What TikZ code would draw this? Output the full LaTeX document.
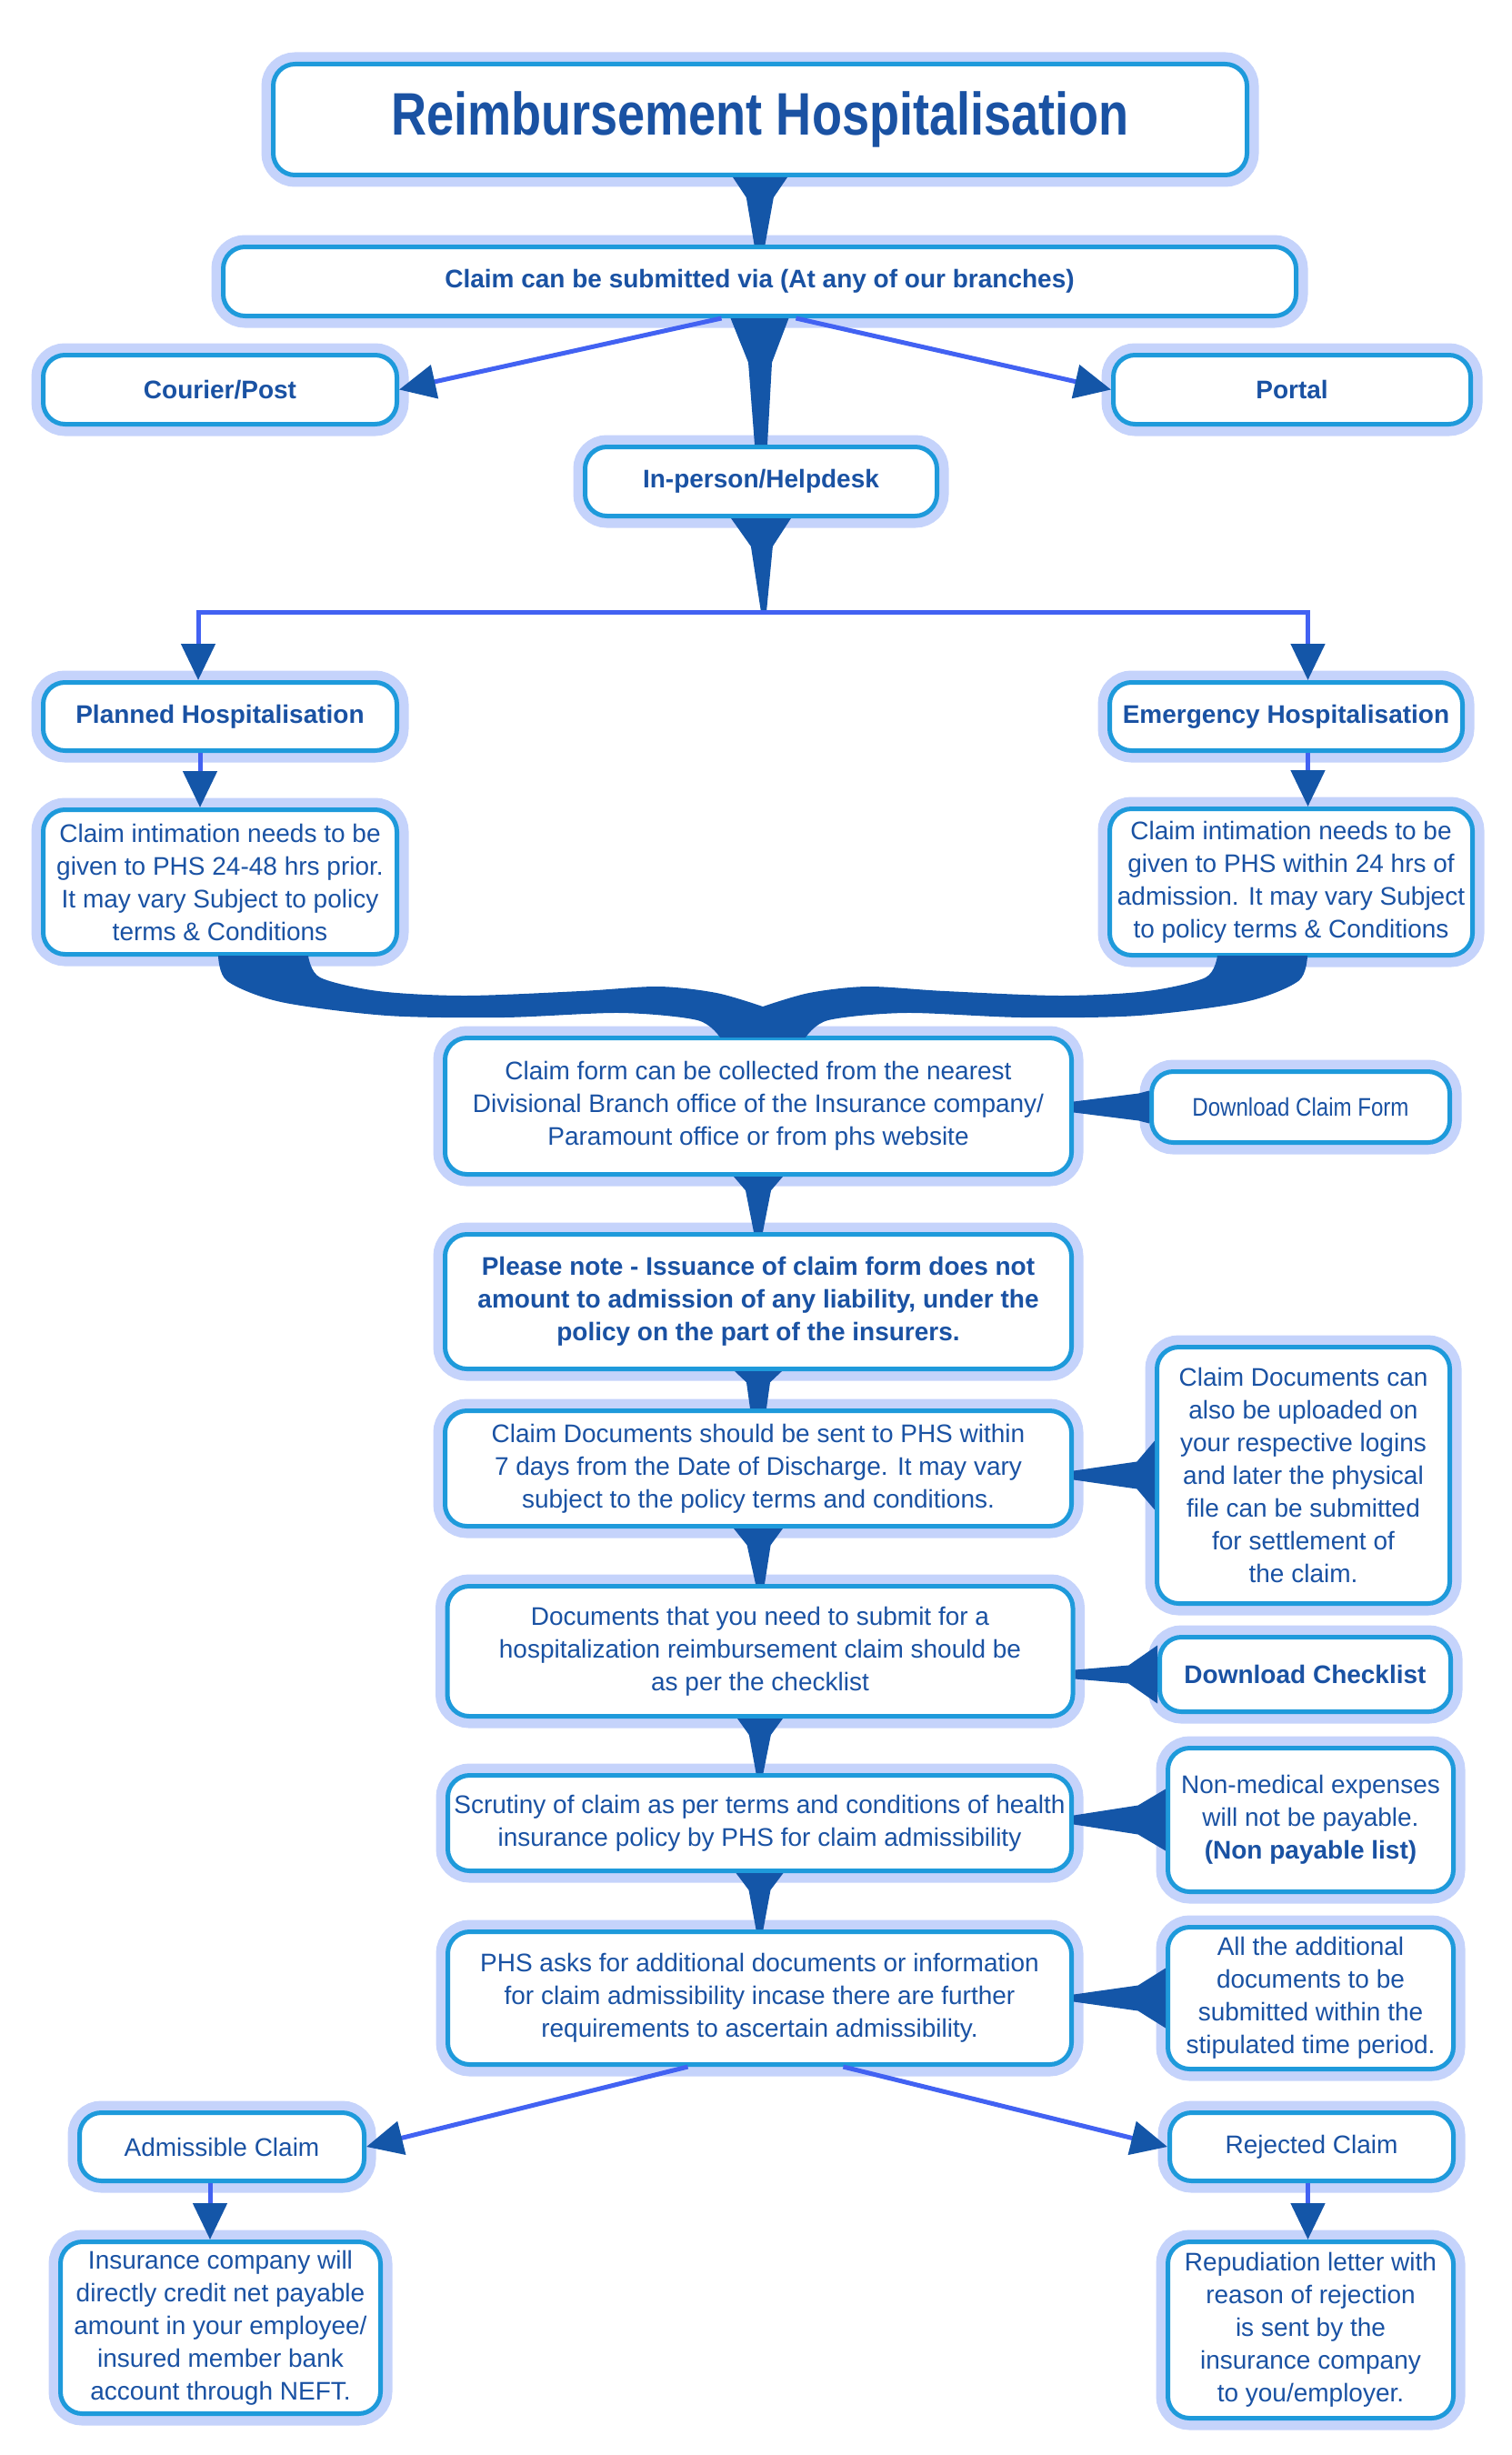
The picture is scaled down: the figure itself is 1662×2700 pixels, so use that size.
\documentclass[tikz,border=0pt]{standalone}
\usepackage{fontspec}
\setmainfont{Liberation Sans}
\usepackage{graphicx}
\usetikzlibrary{arrows.meta,calc}
\definecolor{txtblue}{HTML}{1A52A3}
\definecolor{bordblue}{HTML}{1E9ADB}
\definecolor{glowblue}{HTML}{C5D3FB}
\definecolor{taperblue}{HTML}{1456A8}
\definecolor{lineblue}{HTML}{4262F2}

\begin{document}
\begin{tikzpicture}[x=1pt, y=-1pt,
  box/.style={rectangle, rounded corners=24pt, draw=bordblue, line width=5pt, fill=white, text=txtblue, align=center, inner sep=0pt, font=\fontsize{28}{36}\selectfont, preaction={draw=glowblue, line width=26pt}},
  boldbox/.style={box, font=\fontsize{28}{36}\selectfont\bfseries},
  taper/.style={fill=taperblue},
  arr/.style={draw=lineblue, line width=5pt, -{Triangle[length=40pt,width=37pt,color=taperblue]}}]
\useasboundingbox (0,0) rectangle (1662,2700);

% boxes, top to bottom
\node[boldbox, minimum width=1071pt, minimum height=122pt, font=\fontsize{66}{70}\selectfont\bfseries] (title) at (836,131.5) {\scalebox{0.82}[1]{Reimbursement Hospitalisation}};
\node[boldbox, minimum width=1180pt, minimum height=76pt] (claim) at (835.5,309.5) {Claim can be submitted via (At any of our branches)};
\node[boldbox, minimum width=389pt, minimum height=76pt] (courier) at (242,428.5) {Courier/Post};
\node[boldbox, minimum width=393pt, minimum height=76pt] (portal) at (1421,428.5) {Portal};
\node[boldbox, minimum width=387pt, minimum height=76pt] (inperson) at (837,529.5) {In-person/Helpdesk};
\node[boldbox, minimum width=389pt, minimum height=75pt] (plan) at (242,788) {Planned Hospitalisation};
\node[boldbox, minimum width=388pt, minimum height=75pt] (emer) at (1414.5,788) {Emergency Hospitalisation};
\node[box, minimum width=389pt, minimum height=159pt] (plantext) at (242,970) {Claim intimation needs to be\\given to PHS 24-48 hrs prior.\\It may vary Subject to policy\\terms \& Conditions};
\node[box, minimum width=399pt, minimum height=161pt] (emertext) at (1420,970) {Claim intimation needs to be\\given to PHS within 24 hrs of\\admission. It may vary Subject\\to policy terms \& Conditions};
\node[box, minimum width=689pt, minimum height=150pt] (collect) at (834,1216.5) {Claim form can be collected from the nearest\\Divisional Branch office of the Insurance company/\\Paramount office or from phs website};
\node[box, minimum width=328pt, minimum height=78pt] (dlform) at (1430.5,1217.5) {\scalebox{0.86}[1]{Download Claim Form}};
\node[boldbox, minimum width=689pt, minimum height=148pt] (note) at (834,1431.5) {Please note - Issuance of claim form does not\\amount to admission of any liability, under the\\policy on the part of the insurers.};
\node[box, minimum width=689pt, minimum height=127pt] (docs) at (834,1615) {Claim Documents should be sent to PHS within\\7 days from the Date of Discharge. It may vary\\subject to the policy terms and conditions.};
\node[box, minimum width=322pt, minimum height=282pt] (upload) at (1433.5,1622.5) {Claim Documents can\\also be uploaded on\\your respective logins\\and later the physical\\file can be submitted\\for settlement of\\the claim.};
\node[box, minimum width=688pt, minimum height=143pt] (checklist) at (836,1816) {Documents that you need to submit for a\\hospitalization reimbursement claim should be\\as per the checklist};
\node[boldbox, minimum width=320pt, minimum height=82pt] (dlcheck) at (1435.5,1841.5) {Download Checklist};
\node[box, minimum width=686pt, minimum height=105pt] (scrutiny) at (835.5,2005) {Scrutiny of claim as per terms and conditions of health\\insurance policy by PHS for claim admissibility};
\node[box, minimum width=314pt, minimum height=158pt] (nonmed) at (1441.5,2001.5) {Non-medical expenses\\will not be payable.\\\textbf{(Non payable list)}};
\node[box, minimum width=686pt, minimum height=146pt] (phsasks) at (835.5,2197.5) {PHS asks for additional documents or information\\for claim admissibility incase there are further\\requirements to ascertain admissibility.};
\node[box, minimum width=314pt, minimum height=156pt] (addl) at (1441.5,2197.5) {All the additional\\documents to be\\submitted within the\\stipulated time period.};
\node[box, minimum width=313pt, minimum height=75pt] (admiss) at (244,2361) {Admissible Claim};
\node[box, minimum width=312pt, minimum height=75pt] (reject) at (1442.5,2361) {Rejected Claim};
\node[box, minimum width=352pt, minimum height=189pt] (insurer) at (242.5,2560) {Insurance company will\\directly credit net payable\\amount in your employee/\\insured member bank\\account through NEFT.};
\node[box, minimum width=314pt, minimum height=194pt] (repud) at (1441.5,2562.5) {Repudiation letter with\\reason of rejection\\is sent by the\\insurance company\\to you/employer.};

\coordinate (split) at ($(inperson.south)+(3,103)$);

% tapered links down the middle
\fill[taper] ($(title.south)+(-30,0)$) -- ($(title.south)+(30,0)$) -- ($(title.south)!0.3!(claim.north)+(15,0)$) -- ($(claim.north)+(6,0)$) -- ($(claim.north)+(-6,0)$) -- ($(title.south)!0.3!(claim.north)+(-15,0)$) -- cycle;
\fill[taper] ($(claim.south)+(-32,0)$) -- ($(claim.south)+(32,0)$) -- ($(claim.south)!0.35!(inperson.north)+(13,0)$) -- ($(inperson.north)+(7,0)$) -- ($(inperson.north)+(-7,0)$) -- ($(claim.south)!0.35!(inperson.north)+(-13,0)$) -- cycle;
\fill[taper] ($(inperson.south)+(-33,0)$) -- ($(inperson.south)+(33,0)$) -- ($(inperson.south)!0.3!(split)+(12,0)$) -- ($(split)+(3,0)$) -- ($(split)+(-3,0)$) -- ($(inperson.south)!0.3!(split)+(-12,0)$) -- cycle;
\fill[taper] ($(collect.south)+(-27,0)$) -- ($(collect.south)+(27,0)$) -- ($(collect.south)!0.25!(note.north)+(14,0)$) -- ($(note.north)+(5,0)$) -- ($(note.north)+(-5,0)$) -- ($(collect.south)!0.25!(note.north)+(-14,0)$) -- cycle;
\fill[taper] ($(note.south)+(-26,0)$) -- ($(note.south)+(26,0)$) -- ($(note.south)!0.3!(docs.north)+(13,0)$) -- ($(docs.north)+(9,0)$) -- ($(docs.north)+(-9,0)$) -- ($(note.south)!0.3!(docs.north)+(-13,0)$) -- cycle;
\fill[taper] ($(docs.south)+(-27,0)$) -- ($(docs.south)+(27,0)$) -- ($(docs.south)!0.3!(checklist.north)+(13,0)$) -- ($(checklist.north)+(5,0)$) -- ($(checklist.north)+(-5,0)$) -- ($(docs.south)!0.3!(checklist.north)+(-13,0)$) -- cycle;
\fill[taper] ($(checklist.south)+(-25,0)$) -- ($(checklist.south)+(25,0)$) -- ($(checklist.south)!0.3!(scrutiny.north)+(12,0)$) -- ($(scrutiny.north)+(4,0)$) -- ($(scrutiny.north)+(-4,0)$) -- ($(checklist.south)!0.3!(scrutiny.north)+(-12,0)$) -- cycle;
\fill[taper] ($(scrutiny.south)+(-26,0)$) -- ($(scrutiny.south)+(26,0)$) -- ($(scrutiny.south)!0.3!(phsasks.north)+(12,0)$) -- ($(phsasks.north)+(4,0)$) -- ($(phsasks.north)+(-4,0)$) -- ($(scrutiny.south)!0.3!(phsasks.north)+(-12,0)$) -- cycle;

% tapered links from the side boxes
\fill[taper] ($(dlform.west)+(0,-18)$) -- ($(dlform.west)!0.14!(dlform.west -| collect.east)+(0,-15)$) -- ($(dlform.west -| collect.east)+(0,-6)$) -- ($(dlform.west -| collect.east)+(0,6)$) -- ($(dlform.west)!0.14!(dlform.west -| collect.east)+(0,15)$) -- ($(dlform.west)+(0,18)$) -- cycle;
\fill[taper] ($(upload.west)+(0,-38)$) -- ($(upload.west)!0.22!(upload.west -| docs.east)+(0,-15)$) -- ($(upload.west -| docs.east)+(0,-5)$) -- ($(upload.west -| docs.east)+(0,5)$) -- ($(upload.west)!0.22!(upload.west -| docs.east)+(0,15)$) -- ($(upload.west)+(0,38)$) -- cycle;
\fill[taper] ($(dlcheck.west)+(0,-32)$) -- ($(dlcheck.west)!0.35!(dlcheck.west -| checklist.east)+(0,-10)$) -- ($(dlcheck.west -| checklist.east)+(0,-5)$) -- ($(dlcheck.west -| checklist.east)+(0,5)$) -- ($(dlcheck.west)!0.35!(dlcheck.west -| checklist.east)+(0,10)$) -- ($(dlcheck.west)+(0,32)$) -- cycle;
\fill[taper] ($(nonmed.west)+(0,-34)$) -- ($(nonmed.west)!0.3!(nonmed.west -| scrutiny.east)+(0,-16)$) -- ($(nonmed.west -| scrutiny.east)+(0,-5)$) -- ($(nonmed.west -| scrutiny.east)+(0,5)$) -- ($(nonmed.west)!0.3!(nonmed.west -| scrutiny.east)+(0,16)$) -- ($(nonmed.west)+(0,34)$) -- cycle;
\fill[taper] ($(addl.west)+(0,-33)$) -- ($(addl.west)!0.3!(addl.west -| phsasks.east)+(0,-14)$) -- ($(addl.west -| phsasks.east)+(0,-4)$) -- ($(addl.west -| phsasks.east)+(0,4)$) -- ($(addl.west)!0.3!(addl.west -| phsasks.east)+(0,14)$) -- ($(addl.west)+(0,33)$) -- cycle;

% the brace joining both hospitalisation routes
\begin{scope}[shift={(collect.north)}]
\fill[taper] plot[smooth] coordinates {(-594,-88) (-584,-60) (-525,-37) (-408,-22) (-280,-20) (-152,-25) (-67,-17) (-42,2)}
  -- plot[smooth] coordinates {(52,2) (77,-17) (162,-25) (290,-20) (418,-22) (535,-37) (594,-60) (604,-88)}
  -- plot[smooth] coordinates {(505,-88) (492,-64) (428,-49) (333,-44) (205,-49) (120,-54) (56,-47) (5,-32)}
  -- plot[smooth] coordinates {(5,-32) (-46,-47) (-110,-54) (-195,-49) (-323,-44) (-418,-49) (-482,-64) (-495,-88)}
  -- cycle;
\end{scope}

% thin arrows
\draw[arr] ([xshift=-42pt]claim.south) -- (courier.east);
\draw[arr] ([xshift=40pt]claim.south) -- (portal.west);
\draw[arr] (split) -| ([xshift=-24pt]plan.north);
\draw[arr] (split) -| ([xshift=24pt]emer.north);
\draw[arr] ([xshift=-22pt]plan.south) -- ([xshift=-22pt]plan.south |- plantext.north);
\draw[arr] ([xshift=24pt]emer.south) -- ([xshift=24pt]emer.south |- emertext.north);
\draw[arr] ([xshift=-79pt]phsasks.south) -- (admiss.east);
\draw[arr] ([xshift=92pt]phsasks.south) -- (reject.west);
\draw[arr] ([xshift=-13pt]admiss.south) -- ([xshift=-13pt]admiss.south |- insurer.north);
\draw[arr] ([xshift=-4pt]reject.south) -- ([xshift=-4pt]reject.south |- repud.north);
\end{tikzpicture}
\end{document}
